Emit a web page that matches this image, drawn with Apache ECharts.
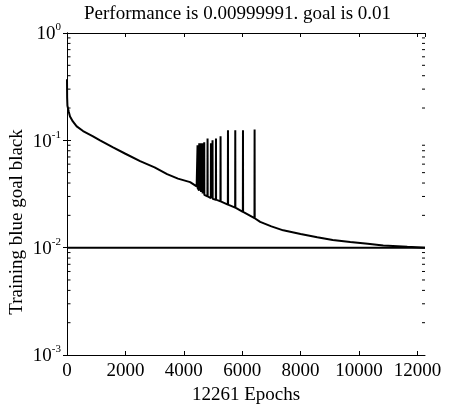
<!DOCTYPE html>
<html>
<head>
<meta charset="utf-8">
<script src="https://cdn.jsdelivr.net/npm/echarts@6/dist/echarts.min.js"></script>
<style>html,body{margin:0;padding:0;background:#fff;}#c{width:451px;height:410px;}</style>
</head>
<body>
<div id="c"></div>
<script>
// ---- data ----
var titleText = 'Performance is 0.00999991. goal is 0.01';
var xName = '12261 Epochs';
var yName = 'Training blue goal black';
var totalEpochs = 12261;
var xTickStep = 2000;
var yTickExponents = ['0', '-1', '-2', '-3'];
var yMinorTicks = [0.002,0.003,0.004,0.005,0.006,0.007,0.008,0.009,
                   0.02,0.03,0.04,0.05,0.06,0.07,0.08,0.09,
                   0.2,0.3,0.4,0.5,0.6,0.7,0.8,0.9];

var smoothEpochs = [0, 5, 15, 60, 103, 200, 332, 550, 891, 1131, 1577, 2000, 2503, 3000, 3428, 3800, 4217, 4440];
var smoothPerf   = [0.37, 0.25, 0.21, 0.185, 0.167, 0.15, 0.135, 0.122, 0.109, 0.100, 0.086, 0.075, 0.064, 0.056, 0.0484, 0.044, 0.0408, 0.0372];

var spikeEpochs = [4467, 4525, 4583, 4638, 4696, 4810, 4926, 4981, 5098, 5255, 5509, 5759, 6023, 6421];
var spikeBase   = [0.036, 0.034, 0.033, 0.032, 0.031, 0.030, 0.029, 0.0285, 0.028, 0.027, 0.0252, 0.0236, 0.0215, 0.0188];
var spikePeak   = [0.090, 0.094, 0.094, 0.094, 0.096, 0.104, 0.094, 0.100, 0.104, 0.109, 0.124, 0.124, 0.124, 0.126];

var tailEpochs = [6616, 7000, 7405, 8000, 8570, 9100, 9701, 10300, 10832, 11655, 12261];
var tailPerf   = [0.0174, 0.0158, 0.0145, 0.0134, 0.0125, 0.0118, 0.0113, 0.0109, 0.0105, 0.0102, 0.00999991];

var goalEpochs = [0, 12261];
var goalPerf   = [0.01, 0.01];

// ---- build series data ----
var trainData = [];
smoothEpochs.forEach(function (e, i) { trainData.push([e, smoothPerf[i]]); });
spikeEpochs.forEach(function (e, i) {
  trainData.push([e, spikeBase[i]]);
  trainData.push([e + 4, spikePeak[i]]);
  trainData.push([e + 8, spikeBase[i]]);
});
tailEpochs.forEach(function (e, i) { trainData.push([e, tailPerf[i]]); });
var goalData = goalEpochs.map(function (e, i) { return [e, goalPerf[i]]; });

var FONT = 'Liberation Serif';
var FS = 19;
var chart = echarts.init(document.getElementById('c'), null, {renderer: 'canvas'});
var axisLineStyle = {color: '#000', width: 1};
chart.setOption({
  animation: false,
  backgroundColor: '#fff',
  title: {
    text: titleText,
    left: 79, top: 0,
    textStyle: {fontFamily: FONT, fontSize: FS, fontWeight: 'normal', color: '#000'}
  },
  grid: {left: 67, right: 26, top: 33, bottom: 53, containLabel: false},
  xAxis: [{
    type: 'value', min: 0, max: totalEpochs, interval: xTickStep,
    position: 'bottom',
    name: xName, nameLocation: 'middle', nameGap: 31,
    nameTextStyle: {fontFamily: FONT, fontSize: FS, color: '#000'},
    axisLine: {show: true, lineStyle: axisLineStyle},
    axisTick: {show: true, inside: true, length: 4, lineStyle: axisLineStyle},
    axisLabel: {fontFamily: FONT, fontSize: FS, color: '#000', margin: 7, showMaxLabel: false,
      formatter: function (v) { return String(v); }},
    splitLine: {show: false}
  }, {
    type: 'value', min: 0, max: totalEpochs, interval: xTickStep,
    position: 'top',
    axisLine: {show: true, lineStyle: axisLineStyle},
    axisTick: {show: true, inside: true, length: 4, lineStyle: axisLineStyle},
    axisLabel: {show: false},
    splitLine: {show: false}
  }],
  yAxis: [{
    type: 'log', logBase: 10, min: 0.001, max: 1,
    position: 'left',
    axisLine: {show: true, lineStyle: axisLineStyle},
    axisTick: {show: true, inside: true, length: 4, lineStyle: axisLineStyle},
    axisLabel: {
      margin: 6,
      formatter: function (v) {
        var ex = Math.round(Math.log10(v));
        var idx = -ex;
        return '{b|10}{e|' + yTickExponents[idx] + '}';
      },
      rich: {
        b: {fontFamily: FONT, fontSize: FS, color: '#000', lineHeight: 22, verticalAlign: 'bottom'},
        e: {fontFamily: FONT, fontSize: 11, color: '#000', lineHeight: 22, verticalAlign: 'top', padding: [0, 0, 11, 0]}
      }
    },
    splitLine: {show: false}
  }, {
    type: 'log', logBase: 10, min: 0.001, max: 1,
    position: 'right',
    axisLine: {show: true, lineStyle: axisLineStyle},
    axisTick: {show: true, inside: true, length: 4, lineStyle: axisLineStyle},
    axisLabel: {show: false},
    splitLine: {show: false}
  }],
  graphic: [{
    type: 'text',
    x: 17, y: 222,
    rotation: Math.PI / 2,
    style: {text: yName, fontFamily: FONT, fontSize: FS, fill: '#000', align: 'center', verticalAlign: 'middle'}
  }],
  series: [{
    type: 'line', data: goalData, xAxisIndex: 0, yAxisIndex: 0,
    showSymbol: false, symbol: 'none',
    lineStyle: {color: '#000', width: 2}, z: 3
  }, {
    type: 'line', data: trainData, xAxisIndex: 0, yAxisIndex: 0,
    showSymbol: false, symbol: 'none',
    lineStyle: {color: '#000', width: 2}, z: 4
  }, {
    type: 'custom', xAxisIndex: 0, yAxisIndex: 0, clip: false,
    data: yMinorTicks.map(function (v) { return [0, v]; }),
    renderItem: function (params, api) {
      var v = api.value(1);
      var pL = api.coord([0, v]);
      var pR = api.coord([totalEpochs, v]);
      return {type: 'group', children: [
        {type: 'line', shape: {x1: pL[0] + 0.5, y1: pL[1], x2: pL[0] + 3.5, y2: pL[1]}, style: {stroke: '#000', lineWidth: 1}},
        {type: 'line', shape: {x1: pR[0] - 3, y1: pR[1], x2: pR[0], y2: pR[1]}, style: {stroke: '#000', lineWidth: 1}}
      ]};
    },
    z: 2
  }]
});
</script>
</body>
</html>
